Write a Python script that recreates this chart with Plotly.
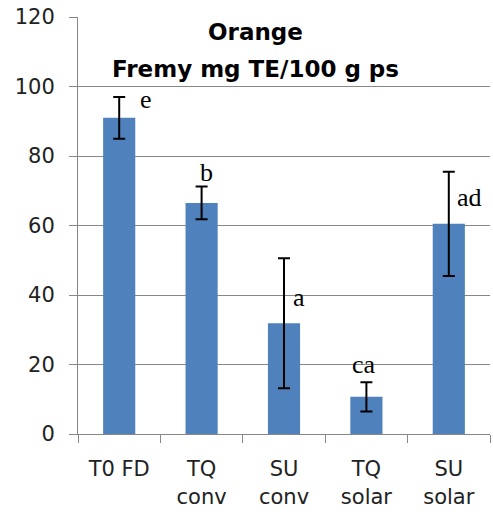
import plotly.graph_objects as go

# Data: antioxidant capacity (Fremy, mg TE/100 g dry matter) for orange
categories = ["T0 FD", "TQ<br>conv", "SU<br>conv", "TQ<br>solar", "SU<br>solar"]
values = [91.0, 66.5, 31.9, 10.7, 60.5]
errors = [6.0, 4.7, 18.7, 4.2, 15.0]
letters = ["e", "b", "a", "ca", "ad"]
# label placement (y in data units, horizontal shift in px)
letter_y = [96.2, 75.2, 39.3, 20.0, 68.0]
letter_dx = [27, 5, 15, -2, 21]

fig = go.Figure()
fig.add_trace(go.Bar(
    x=categories,
    y=values,
    marker=dict(color="#4F81BD", line=dict(width=0)),
    error_y=dict(type="data", array=errors, visible=True,
                 color="#000000", thickness=2, width=6),
))

for cat, lab, ly, dx in zip(categories, letters, letter_y, letter_dx):
    fig.add_annotation(x=cat, y=ly, text=lab, showarrow=False,
                       xshift=dx, xref="x", yref="y",
                       font=dict(family="Liberation Serif", size=26, color="#000000"))

title_font = dict(family="DejaVu Sans", size=23, color="#000000")
fig.add_annotation(x=0.432, y=0.965, xref="paper", yref="paper",
                   xanchor="center", yanchor="middle",
                   text="<b>Orange</b>", showarrow=False, font=title_font)
fig.add_annotation(x=0.432, y=0.875, xref="paper", yref="paper",
                   xanchor="center", yanchor="middle",
                   text="<b>Fremy mg TE/100 g ps</b>", showarrow=False, font=title_font)

axis_col = "#878787"
tick_font = dict(family="DejaVu Sans", size=21, color="#222222")
fig.update_layout(
    width=493, height=514,
    margin=dict(l=78, r=3, t=17, b=80),
    paper_bgcolor="white", plot_bgcolor="white",
    bargap=0.61,
    showlegend=False,
    font=tick_font,
    xaxis=dict(showline=True, linecolor=axis_col, linewidth=1,
               ticks="outside", ticklen=8, tickcolor=axis_col,
               showgrid=False, tickson="boundaries",
               ticklabelstandoff=16, tickfont=tick_font),
    yaxis=dict(range=[0, 120], dtick=20, showline=True, linecolor=axis_col,
               linewidth=1, ticks="outside", ticklen=8, tickcolor=axis_col,
               showgrid=True, gridcolor=axis_col, gridwidth=1,
               zeroline=False, ticklabelstandoff=10, tickfont=tick_font),
)

fig.write_html("out.html")
